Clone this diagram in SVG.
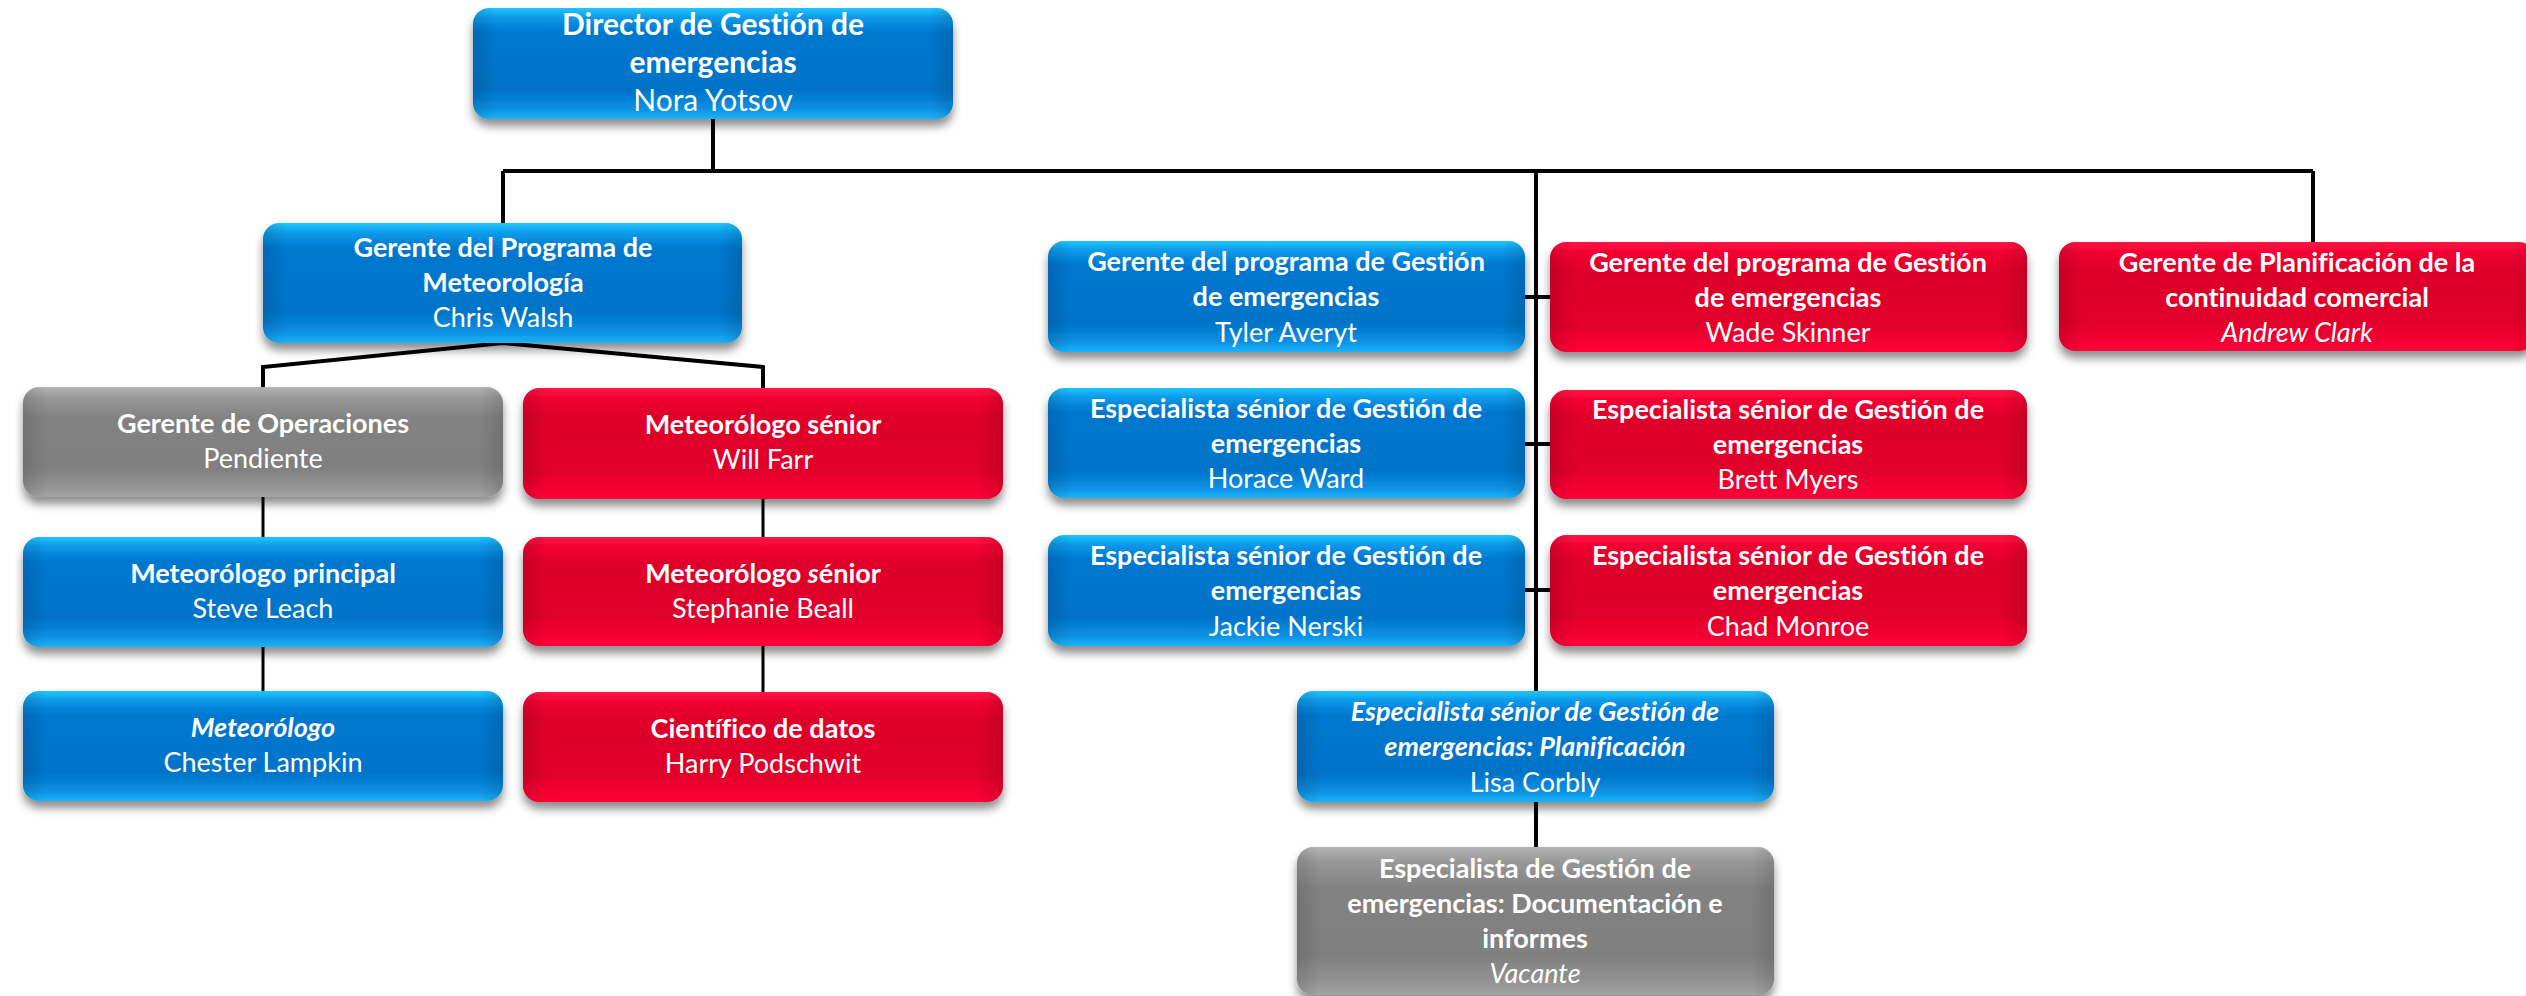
<svg xmlns="http://www.w3.org/2000/svg" width="2526" height="996" viewBox="0 0 2526 996">
<defs>
<linearGradient id="gBlue" x1="0" y1="0" x2="0" y2="1">
<stop offset="0" stop-color="#20C6FF"/><stop offset="0.09" stop-color="#0A98E8"/><stop offset="0.22" stop-color="#0077CF"/><stop offset="0.74" stop-color="#0073C8"/><stop offset="0.9" stop-color="#0A8EE2"/><stop offset="1" stop-color="#1CB4FA"/>
</linearGradient>
<linearGradient id="gRed" x1="0" y1="0" x2="0" y2="1">
<stop offset="0" stop-color="#FF1444"/><stop offset="0.1" stop-color="#F20032"/><stop offset="0.25" stop-color="#DE0029"/><stop offset="0.74" stop-color="#E0002A"/><stop offset="0.9" stop-color="#F40032"/><stop offset="1" stop-color="#FF0638"/>
</linearGradient>
<linearGradient id="gGray" x1="0" y1="0" x2="0" y2="1">
<stop offset="0" stop-color="#B4B4B4"/><stop offset="0.1" stop-color="#989898"/><stop offset="0.28" stop-color="#828282"/><stop offset="0.74" stop-color="#808080"/><stop offset="0.9" stop-color="#929292"/><stop offset="1" stop-color="#A4A4A4"/>
</linearGradient>
<linearGradient id="gSide" x1="0" y1="0" x2="1" y2="0">
<stop offset="0" stop-color="#000" stop-opacity="0.12"/><stop offset="0.05" stop-color="#000" stop-opacity="0"/><stop offset="0.95" stop-color="#000" stop-opacity="0"/><stop offset="1" stop-color="#000" stop-opacity="0.12"/>
</linearGradient>
<filter id="shadow" x="-10%" y="-20%" width="120%" height="150%">
<feDropShadow dx="0" dy="7" stdDeviation="5" flood-color="#000" flood-opacity="0.45"/>
</filter>
</defs>
<style>
.box{filter:url(#shadow);}
.blue{fill:url(#gBlue);}
.red{fill:url(#gRed);}
.gray{fill:url(#gGray);}
.side{fill:url(#gSide);}
text{font-family:Lato,"Liberation Sans",sans-serif;font-size:27px;fill:#fff;text-anchor:middle;font-variant-ligatures:none;font-feature-settings:"liga" 0,"clig" 0;}
.t{font-weight:bold;}
.big{font-size:30px;}
.i{font-style:italic;}
.ln{stroke:#000;stroke-width:4;fill:none;}
.ln3{stroke:#000;stroke-width:3;fill:none;}
</style>
<rect width="2526" height="996" fill="#fff"/>
<g id="connectors">
<path class="ln" d="M713 119V171M503 171H2313M503 171V223M2313 171V242M1536 171V691M1536 802V847"/>
<path class="ln" d="M1525 297H1550M1525 444H1550M1525 590H1550"/>
<path class="ln" d="M263 387V367L503 343L763 367V388"/>
<path class="ln3" d="M263 497V537M263 647V691M763 499V537M763 646V692"/>
</g>
<g id="director">
<rect class="box blue" x="473" y="8" width="480" height="111" rx="16"/><rect class="side" x="473" y="8" width="480" height="111" rx="16"/>
<text class="t big" x="713" y="35">Director de Gestión de</text>
<text class="t big" x="713" y="73">emergencias</text>
<text class="big" x="713" y="111">Nora Yotsov</text>
</g>
<g id="meteo-manager">
<rect class="box blue" x="263" y="223" width="479" height="120" rx="16"/><rect class="side" x="263" y="223" width="479" height="120" rx="16"/>
<text class="t" x="503" y="257">Gerente del Programa de</text>
<text class="t" x="503" y="292">Meteorología</text>
<text x="503" y="327">Chris Walsh</text>
</g>
<g id="operations">
<rect class="box gray" x="23" y="387" width="480" height="110" rx="16"/><rect class="side" x="23" y="387" width="480" height="110" rx="16"/>
<text class="t" x="263" y="433">Gerente de Operaciones</text>
<text x="263" y="468">Pendiente</text>
</g>
<g id="will-farr">
<rect class="box red" x="523" y="388" width="480" height="111" rx="16"/><rect class="side" x="523" y="388" width="480" height="111" rx="16"/>
<text class="t" x="763" y="434">Meteorólogo sénior</text>
<text x="763" y="469">Will Farr</text>
</g>
<g id="steve-leach">
<rect class="box blue" x="23" y="537" width="480" height="110" rx="16"/><rect class="side" x="23" y="537" width="480" height="110" rx="16"/>
<text class="t" x="263" y="583">Meteorólogo principal</text>
<text x="263" y="618">Steve Leach</text>
</g>
<g id="stephanie-beall">
<rect class="box red" x="523" y="537" width="480" height="109" rx="16"/><rect class="side" x="523" y="537" width="480" height="109" rx="16"/>
<text class="t" x="763" y="583">Meteorólogo <tspan class="i">s</tspan>énior</text>
<text x="763" y="618">Stephanie Beall</text>
</g>
<g id="chester-lampkin">
<rect class="box blue" x="23" y="691" width="480" height="110" rx="16"/><rect class="side" x="23" y="691" width="480" height="110" rx="16"/>
<text class="t i" x="263" y="737">Meteorólogo</text>
<text x="263" y="772">Chester Lampkin</text>
</g>
<g id="harry-podschwit">
<rect class="box red" x="523" y="692" width="480" height="110" rx="16"/><rect class="side" x="523" y="692" width="480" height="110" rx="16"/>
<text class="t" x="763" y="738">Científico de datos</text>
<text x="763" y="773">Harry Podschwit</text>
</g>
<g id="tyler-averyt">
<rect class="box blue" x="1048" y="241" width="477" height="111" rx="16"/><rect class="side" x="1048" y="241" width="477" height="111" rx="16"/>
<text class="t" x="1286" y="271">Gerente del programa de Gestión</text>
<text class="t" x="1286" y="306">de emergencias</text>
<text x="1286" y="342">Tyler Averyt</text>
</g>
<g id="wade-skinner">
<rect class="box red" x="1550" y="242" width="477" height="110" rx="16"/><rect class="side" x="1550" y="242" width="477" height="110" rx="16"/>
<text class="t" x="1788" y="272">Gerente del programa de Gestión</text>
<text class="t" x="1788" y="307">de emergencias</text>
<text x="1788" y="342">Wade Skinner</text>
</g>
<g id="horace-ward">
<rect class="box blue" x="1048" y="388" width="477" height="110" rx="16"/><rect class="side" x="1048" y="388" width="477" height="110" rx="16"/>
<text class="t" x="1286" y="418">Especialista sénior de Gestión de</text>
<text class="t" x="1286" y="453">emergencias</text>
<text x="1286" y="488">Horace Ward</text>
</g>
<g id="brett-myers">
<rect class="box red" x="1550" y="390" width="477" height="109" rx="16"/><rect class="side" x="1550" y="390" width="477" height="109" rx="16"/>
<text class="t" x="1788" y="419">Especialista sénior de Gestión de</text>
<text class="t" x="1788" y="454">emergencias</text>
<text x="1788" y="489">Brett Myers</text>
</g>
<g id="jackie-nerski">
<rect class="box blue" x="1048" y="535" width="477" height="111" rx="16"/><rect class="side" x="1048" y="535" width="477" height="111" rx="16"/>
<text class="t" x="1286" y="565">Especialista sénior de Gestión de</text>
<text class="t" x="1286" y="600">emergencias</text>
<text x="1286" y="636">Jackie Nerski</text>
</g>
<g id="chad-monroe">
<rect class="box red" x="1550" y="535" width="477" height="111" rx="16"/><rect class="side" x="1550" y="535" width="477" height="111" rx="16"/>
<text class="t" x="1788" y="565">Especialista sénior de Gestión de</text>
<text class="t" x="1788" y="600">emergencias</text>
<text x="1788" y="636">Chad Monroe</text>
</g>
<g id="andrew-clark">
<rect class="box red" x="2059" y="242" width="476" height="109" rx="16"/><rect class="side" x="2059" y="242" width="476" height="109" rx="16"/>
<text class="t" x="2297" y="272">Gerente de Planificación de la</text>
<text class="t" x="2297" y="307">continuidad comercial</text>
<text class="i" x="2297" y="342">Andrew Clark</text>
</g>
<g id="lisa-corbly">
<rect class="box blue" x="1297" y="691" width="477" height="111" rx="16"/><rect class="side" x="1297" y="691" width="477" height="111" rx="16"/>
<text class="t i" x="1535" y="721">Especialista sénior de Gestión de</text>
<text class="t i" x="1535" y="756">emergencias: Planificación</text>
<text x="1535" y="792">Lisa Corbly</text>
</g>
<g id="documentacion">
<rect class="box gray" x="1297" y="847" width="477" height="148" rx="16"/><rect class="side" x="1297" y="847" width="477" height="148" rx="16"/>
<text class="t" x="1535" y="878">Especialista de Gestión de</text>
<text class="t" x="1535" y="913">emergencias: Documentación e</text>
<text class="t" x="1535" y="948">informes</text>
<text class="i" x="1535" y="983">Vacante</text>
</g>
</svg>
